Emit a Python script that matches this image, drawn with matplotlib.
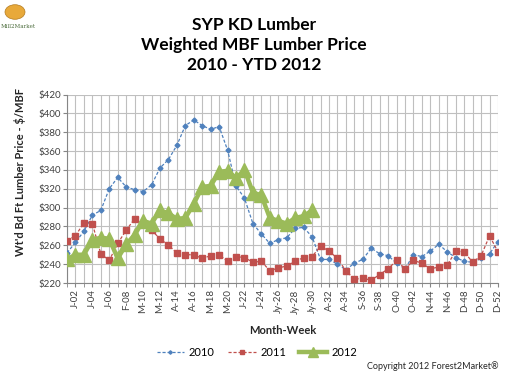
import matplotlib.pyplot as plt
import numpy as np
from matplotlib.patches import Circle

plt.rcParams['font.family'] = ['Lato', 'DejaVu Sans']

# week labels (every 2nd week is labelled)
week_labels = ['J-02', 'J-04', 'J-06', 'F-08', 'M-10', 'M-12', 'A-14', 'A-16', 'M-18',
               'M-20', 'J-22', 'J-24', 'Jy-26', 'Jy-28', 'Jy-30', 'A-32', 'A-34', 'S-36',
               'S-38', 'O-40', 'O-42', 'N-44', 'N-46', 'D-48', 'D-50', 'D-52']

# values, $/MBF per week
price_2010 = [252, 263, 275, 292, 297, 320, 332, 322, 319, 317, 324, 342, 351,
              366, 387, 393, 387, 383, 386, 361, 323, 310, 283, 272, 262, 266,
              268, 278, 279, 269, 245, 245, 240, 234, 241, 245, 257, 251, 249,
              241, 235, 250, 248, 254, 261, 253, 247, 243, 242, 246, 251, 264]

price_2011 = [265, 270, 284, 283, 251, 244, 262, 276, 288, 283, 276, 267, 260,
              252, 250, 250, 246, 249, 250, 243, 248, 247, 242, 243, 233, 236,
              238, 243, 247, 248, 259, 254, 246, 233, 224, 225, 223, 229, 235,
              244, 235, 244, 241, 235, 237, 239, 254, 253, 242, 249, 270, 253]

price_2012 = [245, 250, 250, 266, 268, 267, 246, 261, 271, 286, 283, 297, 294,
              288, 289, 304, 322, 323, 338, 339, 331, 340, 316, 313, 289, 286,
              283, 289, 291, 297]

fig = plt.figure(figsize=(5.09, 3.71), dpi=100)
ax = fig.add_axes([67 / 509, 88 / 371, 431 / 509, 188.5 / 371])

weeks = np.arange(1, 53)
ax.plot(weeks, price_2010, color='#4F81BD', linestyle=(0, (2.5, 1.5)), linewidth=0.9,
        marker='D', markersize=2.5, label='2010', zorder=3)
ax.plot(weeks, price_2011, color='#C0504D', linestyle=(0, (2.5, 1.5)), linewidth=0.9,
        marker='s', markersize=4, label='2011', zorder=4)
ax.plot(weeks[:len(price_2012)], price_2012, color='#9BBB59', linewidth=3.2,
        marker='^', markersize=10, label='2012', zorder=5)

ax.set_xlim(1, 52)
ax.set_ylim(220, 420)
ax.set_yticks(np.arange(220, 421, 20))
ax.set_yticklabels([f'${v}' for v in range(220, 421, 20)])
ax.set_xticks(weeks, minor=True)
ax.set_xticks(np.arange(2, 53, 2))
ax.set_xticklabels(week_labels, rotation=90)

ax.grid(True, which='both', axis='x', color='#BFBFBF', linewidth=0.8)
ax.grid(True, which='major', axis='y', color='#BFBFBF', linewidth=0.8)
ax.set_axisbelow(True)
ax.tick_params(axis='both', which='both', direction='out', length=3, color='#868686',
               labelsize=7, labelcolor='#404040', pad=1.5)

for side in ['top', 'right']:
    ax.spines[side].set_visible(False)
for side in ['left', 'bottom']:
    ax.spines[side].set_color('#868686')
    ax.spines[side].set_linewidth(0.8)

ax.set_xlabel('Month-Week', fontsize=8, fontweight='bold', color='#262626', labelpad=8)
fig.text(20 / 509, 1 - 172 / 371, "Wt'd Bd Ft Lumber Price - $/MBF", rotation=90,
         ha='center', va='center', fontsize=8, fontweight='bold', color='#262626')

fig.text(254 / 509, 1 - 45 / 371, 'SYP KD Lumber\nWeighted MBF Lumber Price\n2010 - YTD 2012',
         ha='center', va='center', fontsize=12.5, fontweight='bold', linespacing=1.3)

fig.legend(loc='center', bbox_to_anchor=(257 / 509, 1 - 352 / 371), ncol=3, frameon=False,
           fontsize=8, handlelength=2.5, columnspacing=1.2, handletextpad=0.4,
           markerscale=0.7)

fig.text(499 / 509, 1 - 366 / 371, 'Copyright 2012 Forest2Market\u00ae', ha='right',
         va='center', fontsize=6.5, color='#262626')

# small logo in the corner
fig.patches.append(Circle((15 / 509, 1 - 12 / 371), 10 / 509, transform=fig.transFigure,
                          facecolor='#E8A93A', edgecolor='#B37A1E', linewidth=0.5))
fig.text(18 / 509, 1 - 27 / 371, 'Mill2Market', ha='center', va='center', fontsize=4,
         color='#4A6B3A', family='DejaVu Serif')

fig.savefig('out.png', dpi=100)
